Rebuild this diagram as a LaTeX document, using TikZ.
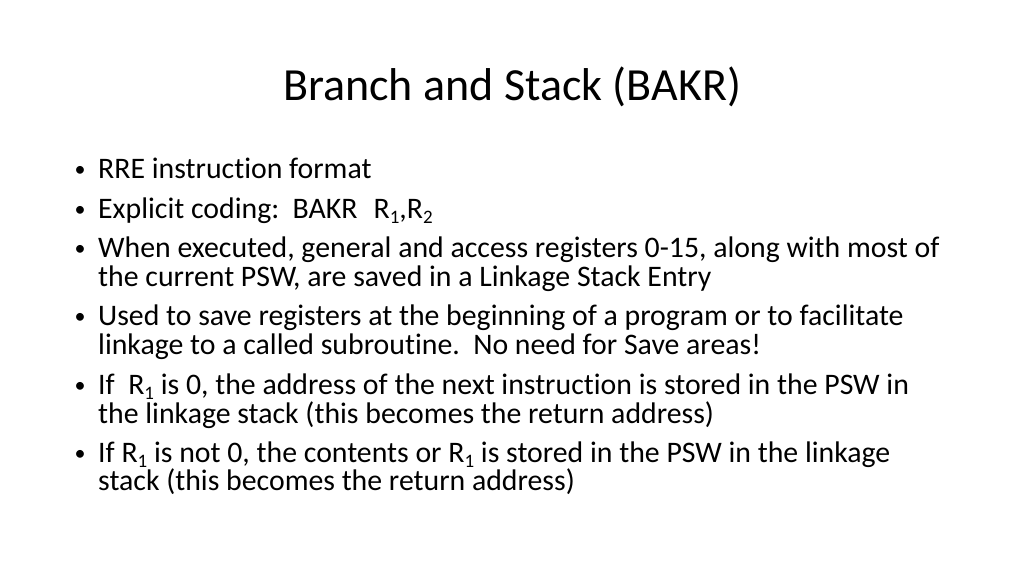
\documentclass[tikz,border=0pt]{standalone}
\usepackage{fontspec}
\setmainfont[Ligatures=NoCommon]{Carlito}
\newcommand{\rsub}[1]{\raisebox{-5pt}{\fontsize{19}{19}\selectfont #1}}
\begin{document}
\begin{tikzpicture}[x=1pt,y=-1pt,
  bodytext/.style={anchor=base west,inner sep=0pt,font=\fontsize{29.8}{32}\selectfont},
  bul/.style={anchor=base,inner sep=0pt,font=\fontsize{22}{24}\selectfont},
  titletext/.style={anchor=base,inner sep=0pt}]
\useasboundingbox (0,0) rectangle (1024,576);
\node[titletext] (title) at (512,100) {\resizebox{458pt}{!}{Branch and Stack (BAKR)}};
\node[bul] (b1) at (80,176) {•};
\node[bodytext] (l1) at (98,178) {RRE instruction format};
\node[bul] (b2) at (80,216) {•};
\node[bodytext] (l2) at (98,218) {Explicit coding:\ \ BAKR\hspace{16pt}R\rsub{1},R\rsub{2}};
\node[bul] (b3) at (80,255) {•};
\node[bodytext] (l3) at (98,257) {When executed, general and access registers 0-15, along with most of};
\node[bodytext] (l4) at (98,286) {the current PSW, are saved in a Linkage Stack Entry};
\node[bul] (b4) at (80,323) {•};
\node[bodytext] (l5) at (98,325) {Used to save registers at the beginning of a program or to facilitate};
\node[bodytext] (l6) at (98,354) {linkage to a called subroutine.\ \ No need for Save areas!};
\node[bul] (b5) at (80,392) {•};
\node[bodytext] (l7) at (98,394) {If\ \ R\rsub{1} is 0, the address of the next instruction is stored in the PSW in};
\node[bodytext] (l8) at (98,423) {the linkage stack (this becomes the return address)};
\node[bul] (b6) at (80,460) {•};
\node[bodytext] (l9) at (98,462) {If R\rsub{1} is not 0, the contents or R\rsub{1} is stored in the PSW in the linkage};
\node[bodytext] (l10) at (98,490) {stack (this becomes the return address)};
\end{tikzpicture}
\end{document}
